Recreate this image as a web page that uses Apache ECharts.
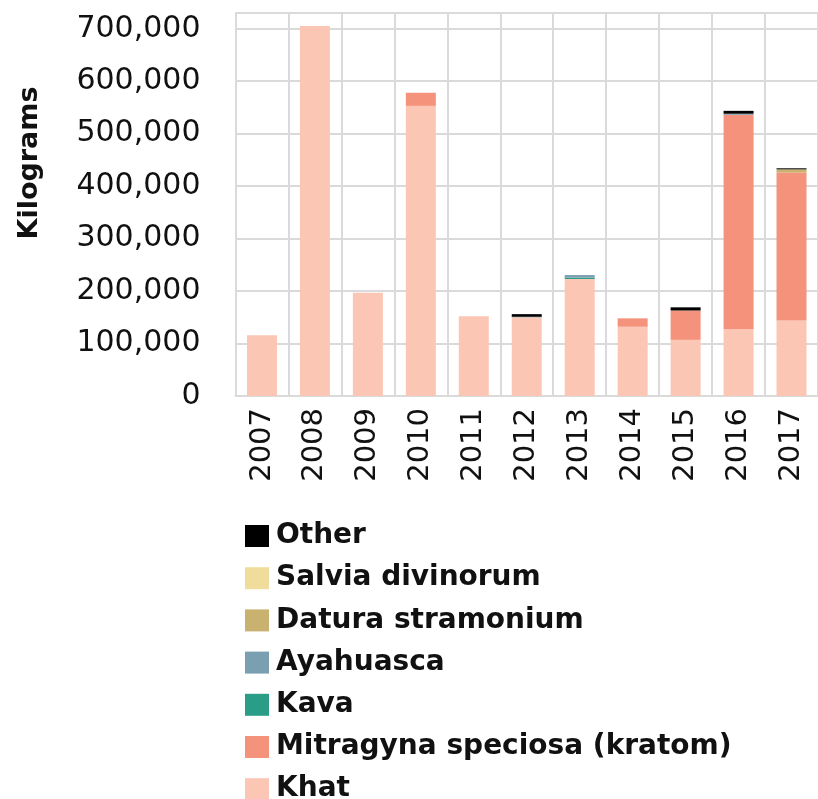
<!DOCTYPE html>
<html>
<head>
<meta charset="utf-8">
<script src="https://cdn.jsdelivr.net/npm/echarts@6/dist/echarts.min.js"></script>
<style>
  html, body { margin: 0; padding: 0; background: #fff; }
  #chart { width: 818px; height: 799px; }
</style>
</head>
<body>
<div id="chart"></div>
<script>
// Seizures by year, in kilograms
const years = ['2007', '2008', '2009', '2010', '2011', '2012', '2013', '2014', '2015', '2016', '2017'];
const khat      = [116000, 705000, 197000, 553000, 152000, 150000, 223000, 132000, 107000, 127000, 144000];
const kratom    = [0, 0, 0, 25000, 0, 0, 0, 16000, 56000, 409000, 282000];
const kava      = [0, 0, 0, 0, 0, 0, 2500, 0, 0, 0, 0];
const ayahuasca = [0, 0, 0, 0, 0, 1000, 5000, 0, 0, 2000, 0];
const datura    = [0, 0, 0, 0, 0, 0, 0, 0, 0, 0, 6000];
const salvia    = [0, 0, 0, 0, 0, 0, 0, 0, 0, 0, 0];
const other     = [0, 0, 0, 0, 0, 5000, 0, 0, 6000, 5500, 2000];
const yTicks = [0, 100000, 200000, 300000, 400000, 500000, 600000, 700000];

const seriesDefs = [
  { name: 'Khat', data: khat, color: '#fcc6b5' },
  { name: 'Mitragyna speciosa (kratom)', data: kratom, color: '#f5927b' },
  { name: 'Kava', data: kava, color: '#2a9d87' },
  { name: 'Ayahuasca', data: ayahuasca, color: '#7a9fb0' },
  { name: 'Datura stramonium', data: datura, color: '#c9b270' },
  { name: 'Salvia divinorum', data: salvia, color: '#f0dc9b' },
  { name: 'Other', data: other, color: '#000000' }
];

const gridColor = '#dadada';
const textColor = '#111111';

const chart = echarts.init(document.getElementById('chart'), null, { renderer: 'canvas' });

chart.setOption({
  animation: false,
  backgroundColor: '#ffffff',
  grid: { left: 235.5, right: -8, top: 13, bottom: 403, containLabel: false },
  xAxis: {
    type: 'category',
    data: years,
    boundaryGap: true,
    axisLine: { show: true, lineStyle: { color: gridColor, width: 2 } },
    axisTick: { show: false },
    splitLine: { show: true, interval: 0, lineStyle: { color: gridColor, width: 2 } },
    axisLabel: {
      rotate: 90,
      margin: 12,
      interval: 0,
      color: textColor,
      fontFamily: 'DejaVu Sans',
      fontSize: 29
    }
  },
  yAxis: {
    type: 'value',
    min: 0,
    max: 730000,
    interval: 100000,
    axisLine: { show: true, lineStyle: { color: gridColor, width: 2 } },
    axisTick: { show: false },
    splitLine: { show: true, lineStyle: { color: gridColor, width: 2 } },
    axisLabel: {
      margin: 35,
      color: textColor,
      fontFamily: 'DejaVu Sans',
      fontSize: 30,
      formatter: function (v) {
        return yTicks.indexOf(v) >= 0 ? v.toLocaleString('en-US') : '';
      }
    }
  },
  legend: {
    orient: 'vertical',
    left: 240,
    top: 517,
    height: 320,
    itemWidth: 24,
    itemHeight: 22,
    itemGap: 14.2,
    icon: 'rect',
    selectedMode: false,
    data: seriesDefs.map(s => s.name).reverse(),
    textStyle: {
      color: textColor,
      fontFamily: 'DejaVu Sans',
      fontWeight: 'bold',
      fontSize: 28,
      padding: [0, 0, 0, 2]
    }
  },
  graphic: [{
    type: 'text',
    x: 30,
    y: 163,
    rotation: Math.PI / 2,
    style: {
      text: 'Kilograms',
      fill: textColor,
      font: 'bold 27px "DejaVu Sans"',
      textAlign: 'center',
      textVerticalAlign: 'middle'
    }
  }],
  series: seriesDefs.map(s => ({
    name: s.name,
    type: 'bar',
    stack: 'total',
    barWidth: 30,
    data: s.data,
    itemStyle: { color: s.color },
    emphasis: { disabled: true }
  }))
});
</script>
</body>
</html>
